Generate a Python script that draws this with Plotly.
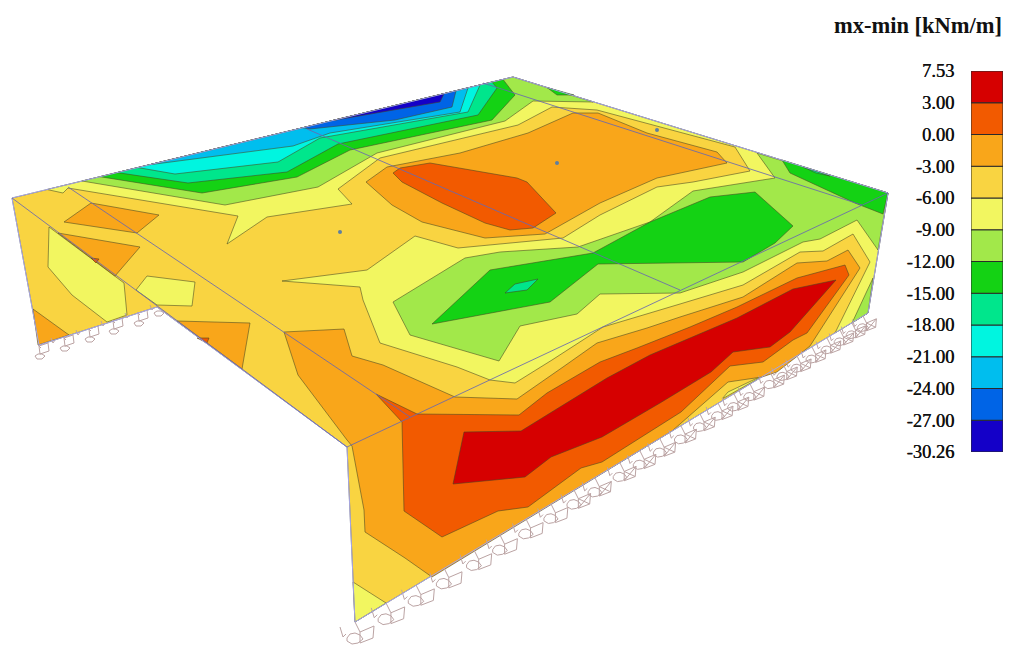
import plotly.graph_objects as go

# ---- colour scale ----
level_labels = ["-30.26", "-27.00", "-24.00", "-21.00", "-18.00", "-15.00", "-12.00",
                "-9.00", "-6.00", "-3.00", "0.00", "3.00", "7.53"]
band_colors = ["#1400C8", "#0064E6", "#00BEEE", "#00F5E0", "#00E68C", "#14D214",
               "#A2E84A", "#F2F660", "#F9D441", "#F9A61A", "#F25A00", "#D60000"]
DK, BL, SK, CY, SE, GR, LG, YE, YO, OR, RO, RE = band_colors

# ---- structure outline (picture coordinates) ----
outline = [(12, 198), (513, 77), (888, 193), (868, 313), (355, 622), (347, 447), (157, 307), (39, 345)]

# ---- contour regions, painted back to front ----
yellow_main = [(47, 189.5), (513, 77), (888, 193), (868, 313), (835, 333), (870, 262), (853, 234), (823, 251),
               (800, 252), (743, 285), (680, 304), (603, 327), (552, 360), (515, 383), (490, 380), (457, 367),
               (380, 343), (363, 300), (360, 287), (282, 281), (367, 270), (415, 236), (458, 248), (563, 238),
               (600, 215), (657, 187), (693, 182), (750, 171), (735, 147), (597, 110), (552, 107), (518, 125),
               (380, 158), (338, 189), (352, 204), (267, 217), (227, 244), (238, 216), (68, 188), (63, 193)]
yellow_wall = [(49, 227), (48, 267), (72, 295), (107, 322), (127, 315), (124, 283)]
yellow_patch = [(147, 276), (195, 282), (192, 306), (157, 305), (136, 290)]
yellow_sliver = [(722, 399), (728, 392), (770, 372)]
yellow_tip = [(353, 582), (386, 603), (355, 622)]
lgreen_top = [(82, 181), (513, 77), (593, 102), (533, 101), (505, 121), (377, 153), (318, 187), (225, 205)]
lgreen_mid = [(757, 153), (888, 193), (878, 250), (857, 220), (820, 239), (803, 242), (743, 272), (680, 293),
              (600, 294), (577, 314), (520, 326), (499, 361), (410, 335), (393, 302), (465, 258), (500, 252),
              (578, 247), (650, 222), (693, 191), (775, 178)]
lgreen_corner = [(873, 278), (868, 313), (852, 323)]
green_top = [(100, 176.7), (503, 79.4), (515, 95), (492, 120), (350, 150), (297, 177), (202, 193)]
green_notch = [(547, 87.5), (557, 95), (574, 95)]
green_corner = [(782, 160), (790, 173), (855, 203), (883, 214), (888, 193)]
green_mid = [(432, 324), (490, 270), (593, 253), (650, 222), (710, 197), (755, 192), (793, 226), (775, 243),
             (743, 262), (598, 264), (550, 302)]
sea_top = [(117, 172.6), (492, 82), (497, 88), (478, 115), (338, 144), (287, 172), (188, 183)]
sea_corner = [(803, 167), (816, 173), (830, 176)]
sea_diamond = [(505, 293), (515, 284), (538, 279), (527, 290)]
cyan_top = [(138, 167.6), (480, 85), (468, 112), (320, 138), (278, 162), (175, 174)]
sky_top = [(150, 164.7), (468, 88), (460, 112), (393, 123), (330, 133), (293, 146)]
blue_top = [(303, 127.7), (456, 90.9), (452, 107), (395, 120), (310, 129)]
dark_top = [(333, 120.5), (444, 93.7), (440, 102)]

orange_ring = [(366, 182), (387, 167), (460, 153), (528, 133), (573, 113), (598, 113), (647, 133), (717, 152),
               (727, 163), (657, 178), (600, 203), (545, 234), (485, 238), (422, 222), (392, 205)]
orange_lobe = [(284, 332), (344, 329), (352, 356), (383, 365), (455, 397), (517, 399), (563, 367), (597, 343),
               (647, 328), (680, 317), (743, 297), (797, 263), (827, 261), (848, 250), (860, 268), (810, 346),
               (795, 358), (777, 372), (762, 377), (728, 382), (672, 431), (432, 577), (405, 558), (365, 532),
               (364, 510), (352, 446), (347, 440), (298, 375)]
orange_a = [(91, 203), (159, 215), (137, 233), (64, 222)]
orange_b = [(58, 233), (140, 247), (115, 276)]
orange_c = [(177, 321), (250, 323), (242, 369)]
orange_d = [(33, 309), (38, 345), (69, 335)]
redor_ring = [(393, 173), (400, 168), (430, 163), (517, 178), (527, 182), (556, 213), (533, 228), (510, 230),
              (485, 223), (442, 203), (402, 182)]
redor_lobe = [(376, 394), (417, 414), (519, 415), (547, 393), (600, 362), (637, 348), (690, 327), (737, 307),
              (797, 278), (827, 270), (845, 265), (849, 275), (807, 333), (793, 340), (763, 362), (730, 366),
              (681, 412), (602, 462), (581, 468), (528, 507), (498, 511), (442, 537), (404, 511), (402, 422)]
redor_b = [(91, 258), (99, 259), (96, 263)]
redor_c = [(197, 338), (209, 338), (207, 343)]
red_lobe = [(453, 484), (464, 432), (521, 431), (607, 378), (650, 355), (690, 338), (737, 318), (793, 289),
            (836, 280), (790, 332), (770, 347), (733, 352), (711, 372), (660, 403), (602, 437), (551, 457), (525, 477)]

regions = [
    (outline, YO), (yellow_main, YE), (yellow_wall, YE), (yellow_patch, YE), (yellow_sliver, YE), (yellow_tip, YE),
    (lgreen_top, LG), (lgreen_mid, LG), (lgreen_corner, LG), (green_top, GR), (green_notch, GR),
    (green_corner, GR), (green_mid, GR), (sea_top, SE), (sea_corner, SE), (sea_diamond, SE),
    (cyan_top, CY), (sky_top, SK), (blue_top, BL), (dark_top, DK),
    (orange_ring, OR), (orange_lobe, OR), (orange_a, OR), (orange_b, OR), (orange_c, OR), (orange_d, OR),
    (redor_ring, RO), (redor_lobe, RO), (redor_b, RO), (redor_c, RO), (red_lobe, RE),
]

# ---- fold lines, nodes, supports ----
fold_lines = [[(12, 198), (347, 447)], [(68, 187), (410, 417)], [(347, 447), (888, 193)],
              [(307, 129), (680, 290)], [(483, 83), (862, 205)]]
node_x = [340, 557, 657]
node_y = [232, 163, 130]
support_wall_x = [38, 63, 88, 112, 137]
support_wall_y = [345, 337, 328, 320, 312]
support_front_x = [355, 386, 416, 444, 474, 500, 526, 551, 574, 595, 620, 640, 660, 681, 700, 718, 734, 750, 770,
                   783, 797, 812, 827, 840, 852, 863]
support_front_y = [622, 603, 585, 568, 550, 535, 519, 504, 490, 478, 463, 451, 439, 426, 414, 403, 394, 384, 372,
                   364, 356, 347, 338, 330, 323, 316]
wall_glyph = [(0, 0), (3, 3), None, (1, 1), (10, -2), (11, 6), (2, 9), (1, 1), None,
              (-3, 11), (0, 9), (4, 9), (7, 11), (4, 14), (-1, 14), (-3, 11), None, (13, -7), (15, -2), (17, -5)]
wall_end_x, wall_end_y = 157, 307
wall_end_glyph = [(-3, 6), (0, 4), (4, 4), (7, 6), (4, 9), (-1, 9), (-3, 6)]
front_glyph = [(0, 0), (5, 10), None, (-8, 16), (-5, 12), (0, 11), (5, 13), (8, 17), (3, 21), (-3, 22), (-8, 19), (-8, 16), None,
               (5, 10), (19, 4), (18, 16), (5, 21), (5, 10), None, (-15, 5), (-12, 15), (-9, 12)]
front_cross = [(5, 10), (18, 16), None, (19, 4), (5, 21)]

fig = go.Figure()
for poly, col in regions:
    fig.add_trace(go.Scatter(x=[p[0] for p in poly] + [poly[0][0]], y=[p[1] for p in poly] + [poly[0][1]],
                             mode="lines", fill="toself", fillcolor=col,
                             line=dict(color="rgba(70,70,35,0.7)", width=0.8),
                             hoverinfo="skip", showlegend=False))


# supports: one small glyph at every supported node
sx, sy = [], []


def stamp(nx, ny, shape, s=1.0):
    for g in shape:
        sx.append(None if g is None else nx + s * g[0])
        sy.append(None if g is None else ny + s * g[1])
    sx.append(None)
    sy.append(None)


for nx, ny in zip(support_wall_x, support_wall_y):
    stamp(nx, ny, wall_glyph)
stamp(wall_end_x, wall_end_y, wall_end_glyph)
for nx, ny in zip(support_front_x, support_front_y):
    s = 1 - 0.3 * (nx - 355) / 513
    stamp(nx, ny, front_glyph, s)
    if nx > 560:
        stamp(nx, ny, front_cross, s)
fig.add_trace(go.Scatter(x=sx, y=sy, mode="lines", line=dict(color="#BBA3A3", width=1),
                         hoverinfo="skip", showlegend=False, connectgaps=False))

# outer edge
fig.add_trace(go.Scatter(x=[p[0] for p in outline] + [outline[0][0]], y=[p[1] for p in outline] + [outline[0][1]],
                         mode="lines", line=dict(color="#A5A5E6", width=1), hoverinfo="skip", showlegend=False))
for seg in fold_lines:
    fig.add_trace(go.Scatter(x=[p[0] for p in seg], y=[p[1] for p in seg], mode="lines",
                             line=dict(color="rgba(105,105,175,0.85)", width=1), hoverinfo="skip", showlegend=False))
fig.add_trace(go.Scatter(x=node_x, y=node_y, mode="markers", marker=dict(color="#5F7F9F", size=4),
                         hoverinfo="skip", showlegend=False))

# colour legend
fig.add_trace(go.Bar(x=[0] * 12, y=[1] * 12, base=list(range(12)), width=1, xaxis="x2", yaxis="y2",
                     marker=dict(color=band_colors, line=dict(color="#2A2A2A", width=1)),
                     hoverinfo="skip", showlegend=False))

W, H = 1013, 646
fig.update_layout(
    width=W, height=H, margin=dict(l=0, r=0, t=0, b=0, pad=0), paper_bgcolor="white", plot_bgcolor="white",
    xaxis=dict(range=[0, W], visible=False, domain=[0, 1], automargin=False),
    yaxis=dict(range=[H, 0], visible=False, domain=[0, 1], automargin=False),
    xaxis2=dict(domain=[971 / W, 1003 / W], range=[-0.5, 0.5], visible=False, anchor="y2", automargin=False),
    yaxis2=dict(domain=[1 - 452 / H, 1 - 71 / H], range=[0, 12], anchor="x2", side="left", automargin=False,
                tickvals=list(range(13)), ticktext=level_labels, showgrid=False, zeroline=False,
                showline=False, ticks="outside", ticklen=12, tickcolor="rgba(0,0,0,0)",
                tickfont=dict(family="Liberation Serif", size=18.5, color="#111111", shadow="0.4px 0 0 #111111")),
    annotations=[dict(text="<b>mx-min [kNm/m]</b>", xref="x", yref="y", x=1004, y=25, xanchor="right",
                      yanchor="middle", showarrow=False,
                      font=dict(family="Liberation Serif", size=22.5, color="#111111"))],
)
fig.write_html("out.html", config=dict(displayModeBar=False),
               post_script="document.body.style.margin='0';document.body.style.overflow='hidden';")
